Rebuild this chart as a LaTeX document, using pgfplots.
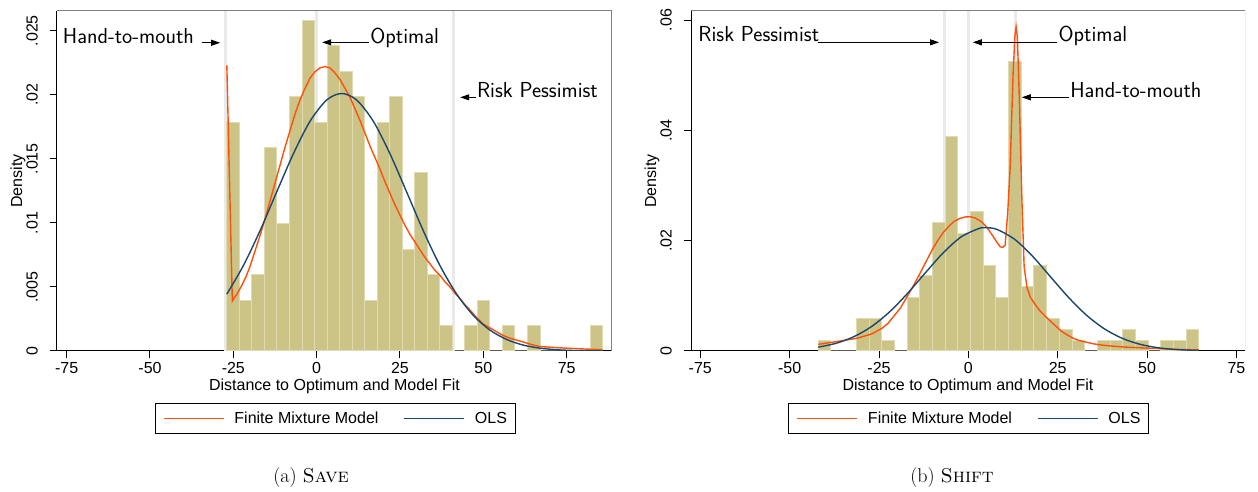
\documentclass[border=0pt]{standalone}
\usepackage{pgfplots}
\pgfplotsset{compat=1.18}
\usepackage{fontspec}
\usetikzlibrary{arrows.meta}
\newfontfamily\arial{Liberation Sans}
\definecolor{fmm}{RGB}{255,80,10}
\definecolor{ols}{RGB}{26,71,111}
\definecolor{barfill}{RGB}{204,196,135}
\definecolor{baredge}{RGB}{224,219,176}
\definecolor{refline}{RGB}{234,234,234}
\newcommand{\tfont}{\arial\fontsize{16}{16}\selectfont}
\newcommand{\afont}{\sffamily\fontsize{21.7}{22}\selectfont}
\tikzset{arr/.style={line width=1pt, -{Triangle[length=9pt,width=6pt]}}}
\pgfplotsset{
  statastyle/.style={
    scale only axis, height=340pt,
    axis x line*=bottom, axis y line*=left,
    axis line style={line width=1pt, black},
    tick align=outside, major tick length=7pt,
    every tick/.style={black, line width=1pt},
    ymin=0, scaled y ticks=false, scaled x ticks=false,
    xtick={-75,-50,-25,0,25,50,75},
    xticklabels={-75,-50,-25,0,25,50,75},
    tick label style={font=\tfont},
    xticklabel style={anchor=north, inner sep=0pt, inner ysep=4pt},
    yticklabel style={rotate=90, anchor=south, inner sep=0pt, inner ysep=12pt},
    legend image code/.code={\draw[#1] (0pt,0pt) -- (60pt,0pt);},
    legend columns=2,
    legend style={draw=black, line width=0.8pt, inner xsep=8pt, inner ysep=8.5pt,
      font=\tfont, nodes={inner sep=0pt},
      /tikz/every odd column/.style={column sep=10pt},
      /tikz/every even column/.style={column sep=25pt},
      anchor=center},
  },
  barstyle/.style={ybar interval, fill=barfill, draw=baredge, line width=1pt},
  refstyle/.style={refline, line width=3pt},
  fmmstyle/.style={color=fmm, line width=1.4pt},
  olsstyle/.style={color=ols, line width=1.4pt},
}
\begin{document}
\begin{tikzpicture}
\useasboundingbox (0pt,0pt) rectangle (1258pt,492pt);
% ---------------- (a) SAVE ----------------
\begin{axis}[statastyle, at={(57pt,141pt)}, anchor=south west, width=555pt,
  xmin=-77.9, xmax=88.6, ymax=0.02654,
  ytick={0,0.005,0.01,0.015,0.02,0.025},
  yticklabels={0,.005,.01,.015,.02,.025},
  legend style={at={(0.5009,-0.1994)}}]
\addlegendimage{fmmstyle}
\addlegendentry{Finite Mixture Model}
\addlegendimage{olsstyle}
\addlegendentry{OLS}
\addplot[refstyle, forget plot] coordinates {(-27.3,0) (-27.3,0.0266)};
\addplot[refstyle, forget plot] coordinates {(0,0) (0,0.0266)};
\addplot[refstyle, forget plot] coordinates {(41.0,0) (41.0,0.0266)};
\addplot[barstyle, forget plot] coordinates {
(-26.94,0.01787) (-23.18,0.00397) (-19.42,0.00596) (-15.67,0.01589) (-11.91,0.00993)
(-8.15,0.01986) (-4.39,0.02582) (-0.63,0.01787) (3.12,0.02383) (6.88,0.02185)
(10.64,0.01986) (14.40,0.00397) (18.16,0.01787) (21.91,0.01986) (25.67,0.00794)
(29.43,0.01390) (33.19,0.00596) (36.95,0.00199) (40.70,0) (44.46,0.00199)
(48.22,0.00397) (51.98,0) (55.74,0.00199) (59.49,0) (63.25,0.00199)
(67.01,0) (70.77,0) (74.53,0) (78.28,0) (82.04,0.00199) (85.80,0)};
\addplot[fmmstyle, forget plot] coordinates {
(-26.95,0.0223) (-25.3,0.0039) (-23.8,0.0045) (-22.5,0.0051) (-21.2,0.0058) (-20,0.0066)
(-18.5,0.0078) (-17,0.0090) (-15.5,0.0103) (-14,0.0117) (-12.5,0.0131) (-11,0.0145)
(-9.5,0.0159) (-8,0.0172) (-6.5,0.0185) (-5,0.0196) (-3.5,0.0205) (-2,0.0213)
(-0.5,0.0218) (1,0.0221) (2.5,0.0222) (4,0.0221) (5.5,0.0217) (7,0.0212) (8.5,0.0205)
(10,0.0198) (11.5,0.0189) (13,0.0180) (14.5,0.0170) (16,0.0160) (17.5,0.0151) (19,0.0142)
(20.5,0.0132) (22,0.0123) (23.5,0.0114) (25,0.0106) (26.5,0.0098) (28,0.0091)
(29.5,0.0085) (31,0.0079) (32.5,0.0073) (34,0.0068) (35.5,0.0063) (37,0.0059)
(38.5,0.0054) (40,0.0050) (41.5,0.0045) (43,0.0041) (44.5,0.0036) (46,0.0032)
(48,0.0026) (50,0.0021) (52,0.0018) (54,0.0015) (56,0.0012) (58,0.0010) (60,0.00085)
(62,0.0007) (64.5,0.0005) (67,0.00035) (71,0.00028) (75,0.00022) (80,0.00016) (85.8,0.0001)};
\addplot[olsstyle, smooth, tension=0.5, forget plot] coordinates {
(-26.95,0.00444) (-22,0.00666) (-17,0.00938) (-12,0.01241) (-7,0.01539) (-2,0.01793)
(3,0.01959) (7.5,0.0201) (12,0.01959) (17,0.01793) (22,0.01539) (27,0.01241)
(32,0.00938) (37,0.00666) (42,0.00444) (47,0.00278) (52,0.00163) (57,0.00090)
(62,0.00046) (67,0.00022) (72,0.00010) (77,0.00004) (85.8,0.00001)};
\draw[black!50, line width=1pt] (rel axis cs:0,1) -- (rel axis cs:1,1) -- (rel axis cs:1,0);
\node[anchor=base east, font=\afont, inner sep=0pt] at (axis cs:-36.75,0.02404) {Hand-to-mouth};
\draw[arr] (axis cs:-34.44,0.02406) -- (axis cs:-28.95,0.02406);
\node[anchor=base west, font=\afont, inner sep=0pt] at (axis cs:16.05,0.02404) {Optimal};
\draw[arr] (axis cs:15.75,0.02409) -- (axis cs:1.65,0.02409);
\node[anchor=base west, font=\afont, inner sep=0pt] at (axis cs:48.06,0.01975) {Risk Pessimist};
\draw[arr] (axis cs:47.85,0.0198) -- (axis cs:43.05,0.0198);
\end{axis}
% ---------------- (b) SHIFT ----------------
\begin{axis}[statastyle, at={(691pt,141pt)}, anchor=south west, width=554pt,
  xmin=-77.6, xmax=77.4, ymax=0.06165,
  ytick={0,0.02,0.04,0.06},
  yticklabels={0,.02,.04,.06},
  legend style={at={(0.5009,-0.1994)}}]
\addlegendimage{fmmstyle}
\addlegendentry{Finite Mixture Model}
\addlegendimage{olsstyle}
\addlegendentry{OLS}
\addplot[refstyle, forget plot] coordinates {(-6.8,0) (-6.8,0.062)};
\addplot[refstyle, forget plot] coordinates {(0,0) (0,0.062)};
\addplot[refstyle, forget plot] coordinates {(13.3,0) (13.3,0.062)};
\addplot[barstyle, forget plot] coordinates {
(-42.00,0.00194) (-38.45,0) (-34.90,0) (-31.35,0.00583) (-27.80,0.00583)
(-24.25,0.00194) (-20.70,0) (-17.15,0.00972) (-13.60,0.01360) (-10.05,0.02332)
(-6.50,0.03886) (-2.95,0.02137) (0.60,0.02526) (4.15,0.01554) (7.70,0.00972)
(11.25,0.05246) (14.80,0.01166) (18.35,0.01554) (21.90,0.00583) (25.45,0.00389)
(29.00,0.00194) (32.55,0) (36.10,0.00194) (39.65,0.00194) (43.20,0.00389)
(46.75,0.00194) (50.30,0) (53.85,0.00194) (57.40,0.00194) (60.95,0.00389) (64.50,0)};
\addplot[fmmstyle, forget plot] coordinates {
(-42,0.0012) (-37,0.0017) (-31.2,0.0023) (-27,0.0031) (-24.2,0.0041) (-22.5,0.0050) (-21,0.0062)
(-19,0.0078) (-17.2,0.0098) (-15.5,0.0117) (-14,0.0135) (-12,0.0160) (-10,0.0185)
(-8.5,0.0201) (-7,0.0215) (-5.5,0.0226) (-4,0.0235) (-2.5,0.0240) (-1,0.0243)
(0.5,0.02435) (2,0.0241) (3.75,0.0234) (5.2,0.0224) (6.5,0.0212) (7.8,0.0199) (8.9,0.0189)
(9.6,0.0188) (10.3,0.0192) (11.0,0.0250)
(11.7,0.0334) (12.5,0.0500) (13.0,0.0570) (13.35,0.0588) (13.7,0.0570) (14.2,0.0470)
(14.5,0.0395) (15.0,0.0270) (15.6,0.0153) (16.4,0.0115) (17.3,0.0098) (18.6,0.0085) (20,0.0073)
(21.5,0.0063) (23,0.0054) (24.5,0.0045) (26,0.0036) (27.7,0.0029) (29.4,0.0023) (31,0.0019)
(33,0.0016) (35,0.0013) (37,0.0011) (40,0.0009) (44,0.0007) (47.5,0.0006) (51,0.0005)
(54.5,0.0004) (58,0.0003) (61,0.00025) (64.5,0.0002)};
\addplot[olsstyle, smooth, tension=0.5, forget plot] coordinates {
(-42,0.000695) (-37,0.00140) (-32,0.00260) (-27,0.00447) (-22,0.00712) (-17,0.01046)
(-12,0.01420) (-7,0.01783) (-2,0.02070) (3,0.02222) (5,0.02236) (8,0.02205)
(13,0.02022) (18,0.01715) (23,0.01344) (28,0.00974) (33,0.00652) (38,0.00404)
(43,0.00231) (48,0.00122) (53,0.00060) (58,0.00027) (64.5,0.00009)};
\draw[black!50, line width=1pt] (rel axis cs:0,1) -- (rel axis cs:1,1) -- (rel axis cs:1,0);
\node[anchor=base west, font=\afont, inner sep=0pt] at (axis cs:-75.57,0.05603) {Risk Pessimist};
\draw[arr] (axis cs:-41.98,0.05597) -- (axis cs:-8.2,0.05597);
\node[anchor=base west, font=\afont, inner sep=0pt] at (axis cs:25.19,0.05603) {Optimal};
\draw[arr] (axis cs:24.8,0.05597) -- (axis cs:1.23,0.05597);
\node[anchor=base west, font=\afont, inner sep=0pt] at (axis cs:28.46,0.04597) {Hand-to-mouth};
\draw[arr] (axis cs:28.2,0.0460) -- (axis cs:14.95,0.0460);
\end{axis}
% ---------------- labels and captions ----------------
\node[font=\tfont, anchor=base] at (334.5pt,101.3pt) {Distance to Optimum and Model Fit};
\node[font=\tfont, anchor=base] at (968pt,101.3pt) {Distance to Optimum and Model Fit};
\node[font=\tfont, anchor=base, rotate=90, inner sep=0pt] at (22pt,311pt) {Density};
\node[font=\tfont, anchor=base, rotate=90, inner sep=0pt] at (656pt,311pt) {Density};
\node[font=\fontsize{20}{22}\selectfont, anchor=base] at (311pt,9pt) {(a) \textsc{Save}};
\node[font=\fontsize{20}{22}\selectfont, anchor=base] at (952pt,9pt) {(b) \textsc{Shift}};
\end{tikzpicture}
\end{document}
